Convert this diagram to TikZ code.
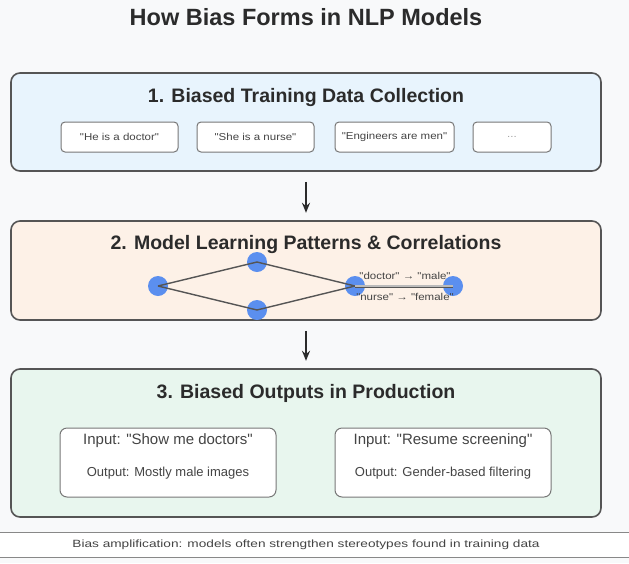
\documentclass[tikz,border=0pt]{standalone}
\usepackage{fontspec}
\setmainfont{Liberation Sans}[Ligatures=TeXOff]
\newfontfamily\wideA{Liberation Sans}[FakeStretch=1.3,Ligatures=TeXOff]
\newfontfamily\wideB{Liberation Sans}[FakeStretch=1.15,Ligatures=TeXOff]
\usetikzlibrary{arrows.meta}
\definecolor{bg}{HTML}{F8F9FA}
\definecolor{edge}{HTML}{555555}
\definecolor{txt}{HTML}{2B2B2B}
\definecolor{subtxt}{HTML}{444444}
\definecolor{fillA}{HTML}{E8F4FD}
\definecolor{fillB}{HTML}{FDF1E7}
\definecolor{fillC}{HTML}{E8F6EE}
\definecolor{dotblue}{HTML}{5B8FEF}
\tikzset{
  stage/.style={draw=edge, line width=1.6pt, rounded corners=9pt, inner sep=0pt},
  chip/.style={draw=edge!80, line width=1pt, fill=white, rounded corners=4pt, minimum width=117pt, minimum height=30pt, inner sep=0pt, font=\wideB\fontsize{10}{12}\selectfont, text=subtxt},
  outbox/.style={draw=edge!80, line width=1pt, fill=white, rounded corners=7pt, minimum width=216pt, minimum height=69pt, inner sep=0pt},
  head/.style={font=\fontsize{19.5}{22}\selectfont\bfseries, text=txt},
  dot/.style={circle, fill=dotblue, minimum size=20pt, inner sep=0pt},
  link/.style={draw=edge, line width=1.4pt},
  flow/.style={draw=txt, line width=1.6pt, -{Stealth[length=10pt,width=8pt]}},
  small/.style={font=\wideB\fontsize{10}{12}\selectfont, text=subtxt}
}
\begin{document}
\begin{tikzpicture}[x=1pt,y=-1pt]
\path[fill=bg] (0,0) rectangle (629,563);
\useasboundingbox (0,0) rectangle (629,563);

\node[font=\fontsize{23.5}{26}\selectfont\bfseries, text=txt] (title) at (306,17) {How Bias Forms in NLP Models};

% Stage 1
\node[stage, fill=fillA, minimum width=590pt, minimum height=98pt] (s1) at (306,122) {};
\node[head] (h1) at (306,97) {1. Biased Training Data Collection};
\node[chip] (c1) at (119.5,137) {"He is a doctor"};
\node[chip] (c2) at (255.5,137) {"She is a nurse"};
\node[chip, minimum width=119pt] (c3) at (394.5,137) {"Engineers are men"};
\node[chip, minimum width=78pt, text=subtxt!50] (c4) at (512,137) {...};

% Stage 2
\node[stage, fill=fillB, minimum width=590pt, minimum height=99pt] (s2) at (306,270.5) {};
\node[head] (h2) at (306,244) {2. Model Learning Patterns \& Correlations};
\node[dot] (n1) at (158,286) {};
\node[dot] (n2) at (257,262) {};
\node[dot] (n3) at (257,310) {};
\node[dot] (n4) at (355,286) {};
\node[dot] (n5) at (453,286) {};
\draw[link] (n1.center) -- (n2.center) -- (n4.center) -- (n3.center) -- (n1.center);
\draw[draw=edge, line width=0.9pt, double=edge!40, double distance=1.2pt] (n4.center) -- (n5.center);
\node[small] (l1) at (405,276) {"doctor" → "male"};
\node[small] (l2) at (405,297) {"nurse" → "female"};

% Stage 3
\node[stage, fill=fillC, minimum width=590pt, minimum height=148pt] (s3) at (306,443) {};
\node[head] (h3) at (306,393) {3. Biased Outputs in Production};
\node[outbox] (o1) at (168,462.5) {};
\node[font=\fontsize{15}{17}\selectfont, text=subtxt] (o1a) at (168,441) {Input: "Show me doctors"};
\node[font=\fontsize{13}{15}\selectfont, text=subtxt] (o1b) at (168,473) {Output: Mostly male images};
\node[outbox] (o2) at (443,462.5) {};
\node[font=\fontsize{15}{17}\selectfont, text=subtxt] (o2a) at (443,441) {Input: "Resume screening"};
\node[font=\fontsize{13}{15}\selectfont, text=subtxt] (o2b) at (443,473) {Output: Gender-based filtering};

% Arrows
\draw[flow] (s1.south -| 306,0) ++(0,10) coordinate (a1s) -- ++(0,31) coordinate (a1e);
\draw[flow] (s2.south -| 306,0) ++(0,10) coordinate (a2s) -- ++(0,30) coordinate (a2e);

% Footer
\path[fill=white] (0,532) rectangle (629,557);
\draw[draw=edge!70, line width=1pt] (0,532) -- (629,532);
\draw[draw=edge!70, line width=1pt] (0,557) -- (629,557);
\node[font=\wideA\fontsize{10.5}{12}\selectfont, text=subtxt] (foot) at (306,545) {Bias amplification: models often strengthen stereotypes found in training data};
\end{tikzpicture}
\end{document}
